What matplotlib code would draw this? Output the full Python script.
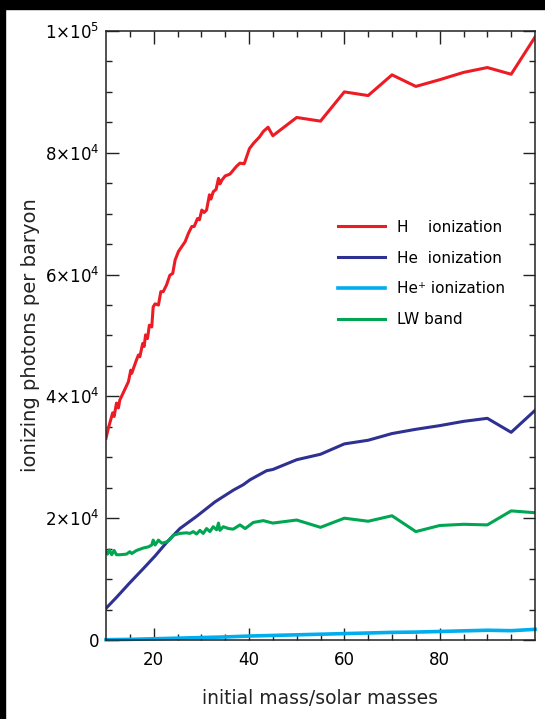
import numpy as np
import matplotlib
matplotlib.use("Agg")
import matplotlib.pyplot as plt
from matplotlib.patches import Rectangle

# H ionization
h_mass = [10.0, 10.5, 11.4, 11.7, 12.2, 12.6, 12.9, 14.7, 15.2, 15.4, 16.4, 16.8, 17.1,
          17.7, 18.0, 18.3, 18.7, 19.1, 19.6, 19.9, 20.3, 21.0, 21.5, 22.0, 22.7, 23.4,
          24.0, 24.5, 25.2, 25.9, 26.6, 27.3, 28.0, 28.5, 29.2, 29.6, 30.1, 30.6, 31.1,
          31.7, 32.0, 32.5, 33.1, 33.6, 33.9, 34.3, 35.0, 36.0, 37.4, 38.1, 39.0, 40.1,
          41.0, 42.2, 43.0, 44.0, 45.0, 50, 55, 60, 65, 70, 75, 80, 85, 90, 95, 100]
h_ion = [33100, 34800, 37300, 36700, 38900, 38100, 39400, 42400, 44300, 43800, 46000, 46800, 46500,
         48700, 48200, 50100, 49500, 51700, 51400, 54700, 55200, 55000, 57200, 57200, 58300, 59900,
         60200, 62400, 63800, 64600, 65400, 66800, 67900, 67900, 69200, 69000, 70600, 70200, 70600,
         73100, 72400, 73600, 74000, 75800, 74900, 75500, 76200, 76500, 77800, 78300, 78200, 80700,
         81600, 82600, 83500, 84200, 82800, 85800, 85200, 90000, 89400, 92800, 90900, 92000, 93200,
         94000, 92900, 99000]

# He ionization
he_mass = [10, 12.2, 15.0, 17.8, 20.3, 22.7, 25.5, 29.0, 32.9, 36.7, 38.8, 40.2, 43.7, 45,
           50, 55, 60, 65, 70, 75, 80, 85, 90, 95, 100]
he_ion = [5200, 7000, 9400, 11700, 13800, 16000, 18300, 20300, 22700, 24600, 25500, 26300, 27800, 28000,
          29600, 30500, 32200, 32800, 33900, 34600, 35200, 35900, 36400, 34100, 37700]

# He+ ionization
hep_mass = [10, 15, 20, 25, 30, 35, 40, 45, 50, 55, 60, 65, 70, 75, 80, 85, 90, 95, 100]
hep_ion = [50, 100, 200, 300, 400, 500, 650, 750, 850, 950, 1050, 1150, 1250, 1300, 1400, 1500,
           1600, 1530, 1750]

# Lyman-Werner band
lw_mass = [10.0, 10.3, 10.7, 11.2, 11.7, 12.2, 12.9, 14.3, 15.0, 15.4, 16.4, 17.8, 18.9, 19.6,
           19.9, 20.3, 21.0, 21.7, 22.7, 23.4, 24.1, 25.5, 26.9, 27.6, 28.3, 29.0, 29.7, 30.4,
           31.1, 31.8, 32.5, 33.2, 33.6, 33.9, 34.6, 35.7, 36.7, 38.1, 39.2, 40.9, 43.0, 45.0,
           50, 55, 60, 65, 70, 75, 80, 85, 90, 95, 100]
lw_band = [14500, 14100, 14800, 14000, 14700, 14000, 14000, 14100, 14500, 14200, 14700, 15100, 15300, 15600,
           16400, 15600, 16400, 15900, 16100, 16500, 17200, 17500, 17600, 17500, 17800, 17400, 18000, 17500,
           18300, 17800, 18600, 18100, 19200, 18000, 18600, 18300, 18200, 18900, 18300, 19300, 19600, 19200,
           19700, 18500, 20000, 19500, 20400, 17800, 18800, 19000, 18900, 21200, 20900]

labels = ["H    ionization", "He  ionization", "He\u207a ionization", "LW band"]
colors = ["#ed1c24", "#2e3192", "#00aeef", "#00a651"]

fig = plt.figure(figsize=(5.45, 7.19), dpi=100)
ax = fig.add_axes([106/545, 79/719, 429/545, 609/719])

ax.plot(h_mass, h_ion, color=colors[0], lw=2.2, label=labels[0])
ax.plot(he_mass, he_ion, color=colors[1], lw=2.2, label=labels[1])
ax.plot(hep_mass, hep_ion, color=colors[2], lw=2.6, label=labels[2], clip_on=False)
ax.plot(lw_mass, lw_band, color=colors[3], lw=2.2, label=labels[3])

ax.set_xlim(10, 100)
ax.set_ylim(0, 1e5)
ax.set_xticks([20, 40, 60, 80])
ax.set_xticks(np.arange(15, 100, 5), minor=True)
ax.set_yticks([0, 2e4, 4e4, 6e4, 8e4, 1e5])
ax.set_yticklabels(["0", r"$2{\times}10^4$", r"$4{\times}10^4$", r"$6{\times}10^4$",
                    r"$8{\times}10^4$", r"$1{\times}10^5$"])
ax.set_yticks(np.arange(0, 100001, 5000), minor=True)
ax.tick_params(which="both", direction="in", top=True, right=True, width=1.0, color="#222222")
ax.tick_params(which="major", length=9, labelsize=12)
ax.tick_params(which="minor", length=4.5)
ax.tick_params(axis="x", pad=8)
ax.tick_params(axis="y", pad=5)
for s in ax.spines.values():
    s.set_linewidth(1.1)
    s.set_color("#222222")

ax.set_xlabel("initial mass/solar masses", fontsize=13.5, color="#222222")
ax.set_ylabel("ionizing photons per baryon", fontsize=14, color="#222222")
ax.xaxis.set_label_coords(0.5, -0.08)
ax.yaxis.set_label_coords(-0.155, 0.5)

ax.legend(loc="upper left", bbox_to_anchor=(0.54, 0.69), frameon=False, fontsize=11,
          handlelength=3.1, handletextpad=0.8, labelspacing=1.03, borderpad=0, borderaxespad=0)

# black border strips of the original scan
fig.patches.append(Rectangle((0, 1 - 9/719), 1, 9/719, transform=fig.transFigure,
                             color="black", zorder=10))
fig.patches.append(Rectangle((0, 0), 5/545, 1, transform=fig.transFigure,
                             color="black", zorder=10))

fig.savefig("out.png", dpi=100)
